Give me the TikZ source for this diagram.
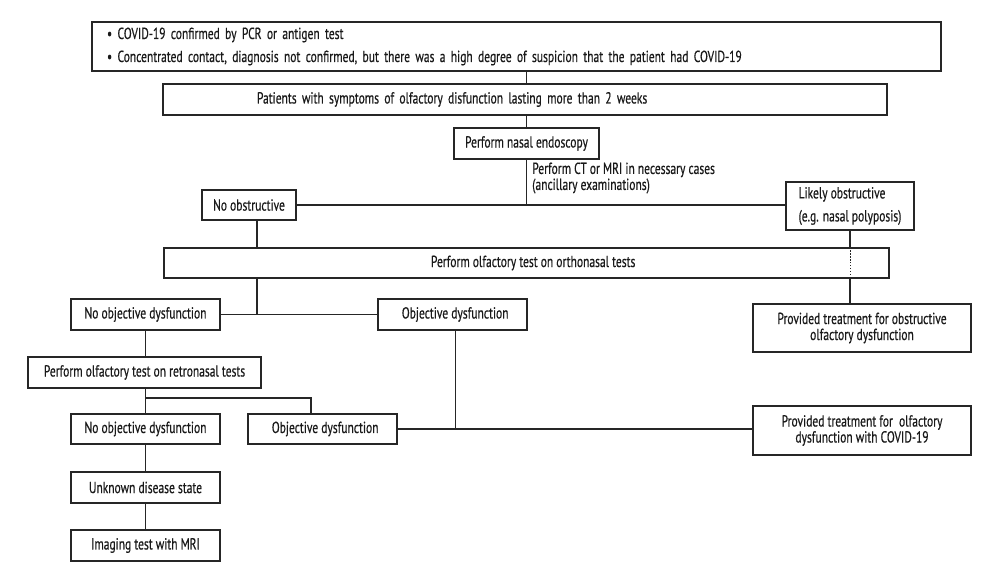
\documentclass[tikz,border=0pt]{standalone}
\usepackage{fontspec}
\setmainfont{PT Sans}[FakeStretch=0.72, FakeBold=0.5]
\begin{document}
\begin{tikzpicture}[x=0.75pt,y=-0.75pt,
  every node/.style={font=\fontsize{12pt}{12pt}\selectfont, text=black!90},
  box/.style={draw=black!85, line width=0.8pt, inner sep=0pt, align=center},
  sz/.style 2 args={minimum width=#1, minimum height=#2},
  ln/.style={draw=black!85, line width=0.8pt}]
\useasboundingbox (0,0) rectangle (1000,584);
\node[box, sz={636.75pt}{36.75pt}, text width=614.25pt, inner xsep=11.25pt, align=left,
      font=\fontsize{12pt}{17.25pt}\selectfont] (top) at (516.5,46.5)
  {\textbullet\ COVID-19 confirmed by PCR or antigen test\\
   \textbullet\ Concentrated contact, diagnosis not confirmed, but there was a high degree of suspicion that the patient had COVID-19};
\node[box, sz={543pt}{23.25pt}, text width=543pt, align=left] (pat) at (525,99.5)
  {\hspace*{70.5pt}Patients with symptoms of olfactory disfunction lasting more than 2 weeks};
\node[box, sz={108.75pt}{23.25pt}] (nasal) at (526.5,143.5) {Perform nasal endoscopy};
\node[align=left, anchor=west, inner sep=0pt] (ct) at (532,178)
  {Perform CT or MRI in necessary cases\\(ancillary examinations)};
\node[box, sz={70.5pt}{22.5pt}] (noobs) at (249,205) {No obstructive};
\node[box, sz={96pt}{36pt}, align=left, font=\fontsize{12pt}{17.25pt}\selectfont] (likely) at (850,206)
  {\raisebox{-1.5pt}{Likely obstructive}\\\raisebox{-1.5pt}{(e.g. nasal polyposis)}};
\node[box, sz={543.75pt}{22.5pt}] (ortho) at (526.5,263) {\hspace*{10pt}Perform olfactory test on orthonasal tests};
\node[box, sz={163.5pt}{36pt}] (obstr) at (862,328)
  {Provided treatment for obstructive\\olfactory dysfunction};
\node[box, sz={111.75pt}{23.25pt}] (noobj1) at (145.5,314.5) {No objective dysfunction};
\node[box, sz={111.75pt}{23.25pt}] (obj1) at (452.5,314.5) {\hspace*{4pt}Objective dysfunction};
\node[box, sz={174.75pt}{23.25pt}] (retro) at (144.5,372.5) {Perform olfactory test on retronasal tests};
\node[box, sz={111.75pt}{22.5pt}] (noobj2) at (145.5,429) {No objective dysfunction};
\node[box, sz={111.75pt}{22.5pt}] (obj2) at (322.5,429) {\hspace*{4pt}Objective dysfunction};
\node[box, sz={163.5pt}{36.75pt}] (covid) at (862,430.5)
  {Provided treatment for\ \ olfactory\\dysfunction with COVID-19};
\node[box, sz={111.75pt}{23.25pt}] (unknown) at (145.5,487.5) {Unknown disease state};
\node[box, sz={111.75pt}{23.25pt}] (imaging) at (145.5,545.5) {Imaging test with MRI};
% connectors
\draw[ln] (top.south -| nasal.north) -- (pat.north -| nasal.north);
\draw[ln] (pat.south -| nasal.north) -- (nasal.north);
\draw[ln] (nasal.south) -- (nasal.south |- noobs.east);
\draw[ln] (noobs.east) -- (noobs.east -| likely.west);
\draw[ln] ([xshift=6pt]noobs.south) -- ([xshift=6pt]noobs.south |- ortho.north);
\draw[ln] ([xshift=6pt]noobs.south |- ortho.south) -- ([xshift=6pt]noobs.south |- noobj1.east);
\draw[ln] (noobj1.east) -- (obj1.west);
\draw[ln] (likely.south) -- (likely.south |- ortho.north);
\draw[draw=black!85, line width=0.6pt, dash pattern=on 1pt off 1.2pt] (likely.south |- ortho.north) -- (likely.south |- ortho.south);
\draw[ln] (likely.south |- ortho.south) -- (likely.south |- obstr.north);
\draw[ln] ([xshift=2pt]obj1.south) -- ([xshift=2pt]obj1.south |- obj2.east);
\draw[ln] (obj2.east) -- (obj2.east -| covid.west);
\draw[ln] (noobj1.south) -- (retro.north -| noobj1.south);
\draw[ln] (retro.south -| noobj1.south) -- (noobj2.north);
\coordinate (br) at (311,398);
\draw[ln] (br -| noobj1.south) -- (br) -- (br |- obj2.north);
\draw[ln] (noobj2.south) -- (unknown.north);
\draw[ln] (unknown.south) -- (imaging.north);
\end{tikzpicture}
\end{document}
